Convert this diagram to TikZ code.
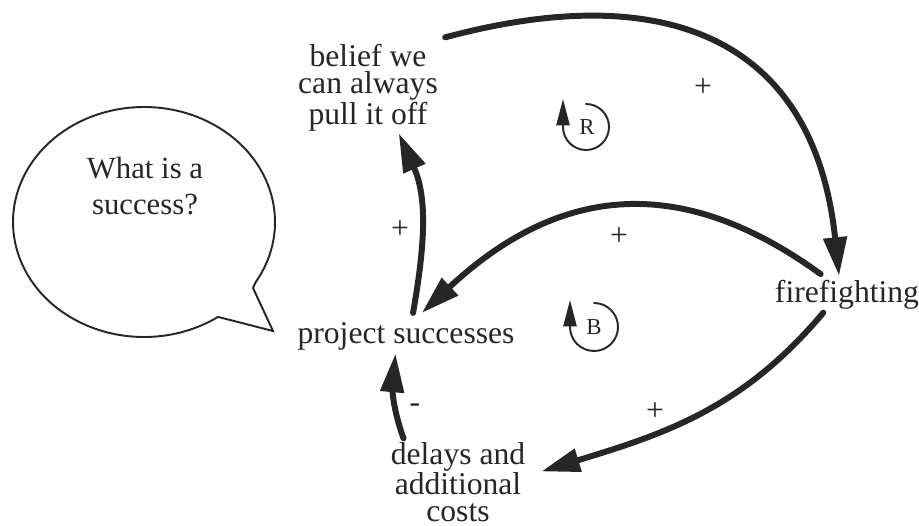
\documentclass[tikz,border=0pt]{standalone}
\usepackage{fontspec}
\setmainfont{Liberation Serif}
\usetikzlibrary{arrows.meta}

\newcommand{\varfont}{\fontsize{18}{15.2}\selectfont}
\newcommand{\bubblefont}{\fontsize{17.5}{21}\selectfont}
\newcommand{\loopfont}{\fontsize{13}{15}\selectfont}
\tikzset{
  var/.style={font=\varfont,align=center,inner sep=2pt},
  link/.style={->,line width=3.4pt},
  loopsym/.style={-{Triangle[length=15pt,width=7.5pt]},line width=1.1pt},
}

\begin{document}
\begin{tikzpicture}[>={Triangle[length=22pt,width=13pt]},x=0.02cm,y=0.02cm,line cap=round,color=black!85]
\useasboundingbox (0,0) rectangle (919,525);
% speech bubble
\draw[line width=1.1pt] (255.7,242.9) arc[start angle=-31.5,delta angle=335.9,x radius=131,y radius=115]
  -- (273,194) -- (253,237) -- cycle;
\node[font=\bubblefont,align=center] (quest) at (145,339) {What is a\\success?};

\node[var] (belief) at (368,437) {belief we\\can always\\pull it off};
\node[var,anchor=base] (proj) at (406,182) {project successes};
\node[var,anchor=base] (fire) at (847,223) {firefighting};
\node[var] (delay) at (458,43) {delays and\\additional\\costs};

\draw[link] ([xshift=2pt,yshift=2pt]belief.north east) to[out=15,in=96,looseness=1.3] ([xshift=-4.5pt]fire.north);
\draw[link] ([xshift=-15pt,yshift=1pt]fire.north) to[out=144,in=43,looseness=1.15] ([xshift=9pt,yshift=3pt]proj.north);
\draw[link] ([xshift=4pt,yshift=3pt]proj.north) to[out=80,in=-66] ([xshift=17.5pt,yshift=1pt]belief.south);
\draw[link] ([xshift=-13.5pt]fire.south) to[out=230,in=17] ([xshift=7pt,yshift=6pt]delay.east);
\draw[link] ([xshift=-31pt]delay.north) to[out=110,in=265] ([xshift=-6pt]proj.south);

\node[font=\varfont] (p1) at (703,437) {+};
\node[font=\varfont] (p2) at (619,288) {+};
\node[font=\varfont] (p3) at (400,295) {+};
\node[font=\varfont] (p4) at (655,113) {+};
\node[font=\varfont] (m1) at (415,117) {-};

% loop markers
\draw[loopsym] (586,421) arc[start angle=90,end angle=-180,radius=23] -- ++(0,28);
\node[font=\loopfont] (loopr) at (587,398) {R};
\draw[loopsym] (594,222) arc[start angle=90,end angle=-180,radius=24] -- ++(0,27);
\node[font=\loopfont] (loopb) at (594,198) {B};
\end{tikzpicture}
\end{document}
